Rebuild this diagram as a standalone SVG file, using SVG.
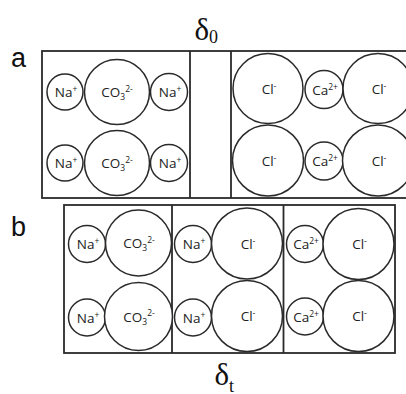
<svg xmlns="http://www.w3.org/2000/svg" width="406" height="394" viewBox="0 0 406 394">
<style>
.box{fill:none;stroke:#2a2a2a;stroke-width:1.8}
.div{stroke:#2a2a2a;stroke-width:1.8}
.ion{fill:#fff;stroke:#2a2a2a;stroke-width:1.5}
.t{font-family:"Open Sans","Liberation Sans",sans-serif;font-size:13.5px;fill:#222;text-anchor:middle}
.s{font-size:8.5px}
.lab{font-family:"Liberation Sans",Arial,sans-serif;font-size:27px;fill:#111}
.d{font-family:"Liberation Serif","Times New Roman",serif;fill:#111}
</style>
<rect width="406" height="394" fill="#fff"/>
<g id="labels">
<text class="lab" x="11" y="67">a</text>
<text class="lab" x="11" y="236">b</text>
<text class="d" x="194.5" y="40" font-size="31">δ<tspan font-size="18" dy="3">0</tspan></text>
<text class="d" x="214.5" y="385" font-size="31">δ<tspan font-size="18" dy="7">t</tspan></text>
</g>
<g id="frames">
<rect class="box" x="42" y="51" width="400" height="147"/>
<line class="div" x1="190" y1="51" x2="190" y2="198"/>
<line class="div" x1="231" y1="51" x2="231" y2="198"/>
<rect class="box" x="64" y="205" width="331" height="148"/>
<line class="div" x1="172" y1="205" x2="172" y2="353"/>
<line class="div" x1="283.5" y1="205" x2="283.5" y2="353"/>
</g>
<g id="panel-a">
<g id="a-na1"><circle class="ion" cx="65" cy="92" r="18"/><text class="t" x="66" y="97">Na<tspan class="s" dy="-5">+</tspan></text></g>
<g id="a-co1"><circle class="ion" cx="117" cy="92" r="32.5"/><text class="t" x="117" y="97">CO<tspan class="s" font-size="9.5" dy="3">3</tspan><tspan class="s" dy="-8.5">2-</tspan></text></g>
<g id="a-na2"><circle class="ion" cx="169" cy="92" r="18.5"/><text class="t" x="170" y="97">Na<tspan class="s" dy="-5">+</tspan></text></g>
<g id="a-na3"><circle class="ion" cx="65" cy="163" r="18"/><text class="t" x="66" y="168">Na<tspan class="s" dy="-5">+</tspan></text></g>
<g id="a-co2"><circle class="ion" cx="117" cy="163" r="32.5"/><text class="t" x="117" y="168">CO<tspan class="s" font-size="9.5" dy="3">3</tspan><tspan class="s" dy="-8.5">2-</tspan></text></g>
<g id="a-na4"><circle class="ion" cx="169" cy="163" r="18.5"/><text class="t" x="170" y="168">Na<tspan class="s" dy="-5">+</tspan></text></g>
<g id="a-cl1"><circle class="ion" cx="268" cy="88.5" r="35"/><text class="t" x="269" y="93.5">Cl<tspan class="s" dy="-5">-</tspan></text></g>
<g id="a-ca1"><circle class="ion" cx="324" cy="89.5" r="19"/><text class="t" x="325" y="94.5">Ca<tspan class="s" dy="-5">2+</tspan></text></g>
<g id="a-cl2"><circle class="ion" cx="378" cy="88.5" r="35"/><text class="t" x="379" y="93.5">Cl<tspan class="s" dy="-5">-</tspan></text></g>
<g id="a-cl3"><circle class="ion" cx="268" cy="160.5" r="35.5"/><text class="t" x="269" y="165.5">Cl<tspan class="s" dy="-5">-</tspan></text></g>
<g id="a-ca2"><circle class="ion" cx="324" cy="161" r="19"/><text class="t" x="325" y="166">Ca<tspan class="s" dy="-5">2+</tspan></text></g>
<g id="a-cl4"><circle class="ion" cx="378" cy="160.5" r="35.5"/><text class="t" x="379" y="165.5">Cl<tspan class="s" dy="-5">-</tspan></text></g>
</g>
<g id="panel-b">
<g id="b-na1"><circle class="ion" cx="87" cy="244" r="18.5"/><text class="t" x="88" y="249">Na<tspan class="s" dy="-5">+</tspan></text></g>
<g id="b-co1"><circle class="ion" cx="138.5" cy="243" r="33"/><text class="t" x="139" y="248">CO<tspan class="s" font-size="9.5" dy="3">3</tspan><tspan class="s" dy="-8.5">2-</tspan></text></g>
<g id="b-na2"><circle class="ion" cx="87" cy="317.5" r="18.5"/><text class="t" x="88" y="322.5">Na<tspan class="s" dy="-5">+</tspan></text></g>
<g id="b-co2"><circle class="ion" cx="138.5" cy="316.5" r="34"/><text class="t" x="139" y="321.5">CO<tspan class="s" font-size="9.5" dy="3">3</tspan><tspan class="s" dy="-8.5">2-</tspan></text></g>
<g id="b-na3"><circle class="ion" cx="193" cy="244" r="18.5"/><text class="t" x="194" y="249">Na<tspan class="s" dy="-5">+</tspan></text></g>
<g id="b-cl1"><circle class="ion" cx="247" cy="243.5" r="35.5"/><text class="t" x="248" y="248.5">Cl<tspan class="s" dy="-5">-</tspan></text></g>
<g id="b-na4"><circle class="ion" cx="193" cy="317.5" r="18.5"/><text class="t" x="194" y="322.5">Na<tspan class="s" dy="-5">+</tspan></text></g>
<g id="b-cl2"><circle class="ion" cx="247" cy="316" r="35.5"/><text class="t" x="248" y="321">Cl<tspan class="s" dy="-5">-</tspan></text></g>
<g id="b-ca1"><circle class="ion" cx="305" cy="244" r="18.5"/><text class="t" x="306" y="249">Ca<tspan class="s" dy="-5">2+</tspan></text></g>
<g id="b-cl3"><circle class="ion" cx="358.5" cy="244" r="35.5"/><text class="t" x="359.5" y="249">Cl<tspan class="s" dy="-5">-</tspan></text></g>
<g id="b-ca2"><circle class="ion" cx="305" cy="316.5" r="18.5"/><text class="t" x="306" y="321.5">Ca<tspan class="s" dy="-5">2+</tspan></text></g>
<g id="b-cl4"><circle class="ion" cx="358.5" cy="316" r="35.5"/><text class="t" x="359.5" y="321">Cl<tspan class="s" dy="-5">-</tspan></text></g>
</g>
</svg>
